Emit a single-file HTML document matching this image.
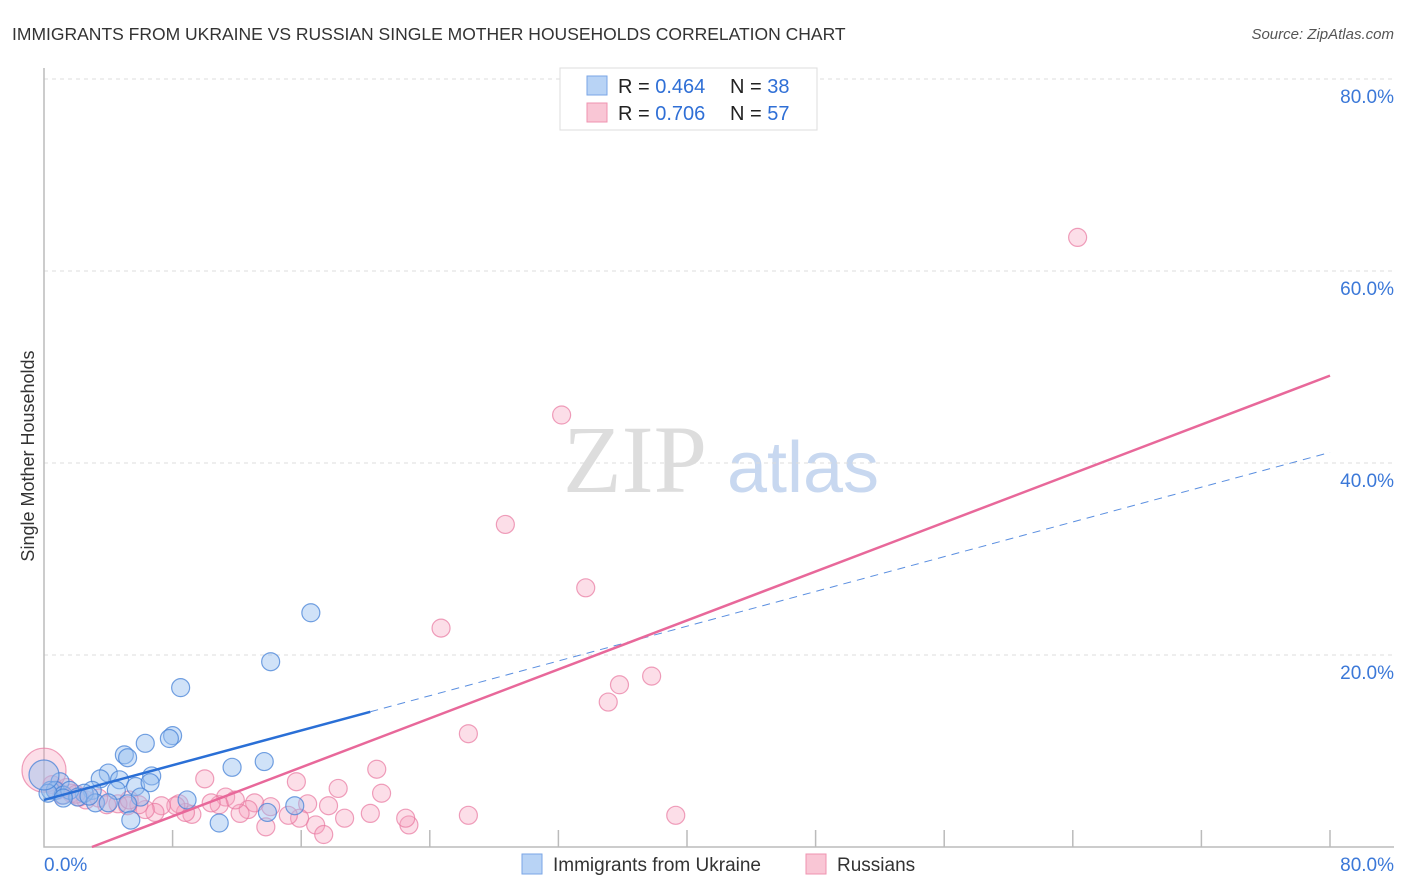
<!DOCTYPE html>
<html><head><meta charset="utf-8"><style>
body{margin:0;background:#fff;font-family:"Liberation Sans",sans-serif;}
svg{display:block}
</style></head><body>
<svg id="chart" width="1406" height="892">
<text x="12" y="40" font-size="17.5" fill="#333">IMMIGRANTS FROM UKRAINE VS RUSSIAN SINGLE MOTHER HOUSEHOLDS CORRELATION CHART</text>
<text x="1394" y="39" font-size="15" fill="#555" font-style="italic" text-anchor="end">Source: ZipAtlas.com</text>
<text transform="translate(34,456) rotate(-90)" font-size="18" fill="#333" text-anchor="middle">Single Mother Households</text>
<g>
<text x="635" y="492" font-size="96" fill="#ddd" text-anchor="middle" font-family="Liberation Serif,serif">ZIP</text>
<text x="803" y="492" font-size="72" fill="#c8d8f0" text-anchor="middle">atlas</text>
</g>
<g id="grid"></g><g id="axes"></g><g id="pts"></g><g id="lines"></g>
<g>
<rect x="560" y="68" width="257" height="62" fill="#fff" stroke="#ddd"/>
<rect x="587" y="76" width="20" height="19" fill="#b8d3f5" stroke="#7aa6e6"/>
<rect x="587" y="103" width="20" height="19" fill="#f9c6d5" stroke="#ef93b0"/>
<text x="618" y="93" font-size="20" fill="#222">R = <tspan fill="#2f6fd6">0.464</tspan></text>
<text x="730" y="93" font-size="20" fill="#222">N = <tspan fill="#2f6fd6">38</tspan></text>
<text x="618" y="120" font-size="20" fill="#222">R = <tspan fill="#2f6fd6">0.706</tspan></text>
<text x="730" y="120" font-size="20" fill="#222">N = <tspan fill="#2f6fd6">57</tspan></text>
</g>
<g>
<rect x="522" y="854" width="20" height="20" fill="#b8d3f5" stroke="#7aa6e6"/>
<text x="553" y="871" font-size="19" fill="#333">Immigrants from Ukraine</text>
<rect x="806" y="854" width="20" height="20" fill="#f9c6d5" stroke="#ef93b0"/>
<text x="837" y="871" font-size="19" fill="#333">Russians</text>
</g>
</svg>
<script>
const yTicks=[20,40,60,80];
const yTickLabels=["20.0%","40.0%","60.0%","80.0%"];
const xTickVals=[8,16,24,32,40,48,56,64,72,80];
const xEndLabels=["0.0%","80.0%"];
const ukraineX=[16.6,14.1,8.5,8.0,7.8,6.3,5.0,5.2,6.7,11.7,13.7,4.0,3.5,4.7,1.0,0.4,3.0,2.5,5.7,6.6,4.5,0.7,1.2,3.2,8.9,6.0,5.2,4.0,5.4,10.9,13.9,15.6,1.6,2.1,0.25,1.2,2.8,0.0];
const ukraineY=[24.4,19.3,16.6,11.6,11.3,10.8,9.6,9.3,7.4,8.3,8.9,7.7,7.1,7.0,6.8,5.9,5.9,5.6,6.3,6.7,5.9,5.9,5.4,4.6,4.9,5.2,4.5,4.6,2.8,2.5,3.6,4.3,5.9,5.2,5.6,5.1,5.3,7.5];
const russiaX=[64.3,32.2,28.7,33.7,24.7,37.8,35.8,35.1,26.4,20.7,15.7,10.0,18.3,21.0,11.3,39.3,26.4,22.7,22.5,20.3,18.7,17.7,16.9,17.4,16.4,15.9,15.2,14.1,13.8,13.1,12.7,12.2,11.9,10.9,10.4,9.2,8.8,8.4,8.2,7.3,6.9,6.3,5.9,5.2,4.6,3.9,2.6,1.7,1.1,0.5,0.8,2.2,3.4,5.3,1.4,2.0,0.0];
const russiaY=[63.5,45.0,33.6,27.0,22.8,17.8,16.9,15.1,11.8,8.1,6.8,7.1,6.1,5.6,5.2,3.3,3.3,2.3,3.0,3.5,3.0,4.3,2.3,1.3,4.5,3.0,3.3,4.2,2.1,4.6,3.9,3.5,4.9,4.4,4.6,3.4,3.6,4.5,4.3,4.3,3.6,3.9,4.4,4.3,4.5,4.4,4.9,5.6,5.4,6.5,5.9,5.2,5.1,4.9,6.2,5.5,8.0];
const ukraineBigIdx=37, russiaBigIdx=56;
const blueTrend=[4.9,41.1], blueSolidEnd=20.3;
const pinkSlope=0.6375, pinkIntercept=-1.9;

const X=v=>44+v*16.075, Y=v=>847-v*9.6;
const NS="http://www.w3.org/2000/svg";
function mk(tag,attrs,parent){const e=document.createElementNS(NS,tag);for(const k in attrs)e.setAttribute(k,attrs[k]);document.getElementById(parent).appendChild(e);return e;}
yTicks.forEach((t,i)=>{
 const g=mk('line',{x1:44,x2:1394,y1:Y(t),y2:Y(t),stroke:'#ddd','stroke-dasharray':'4,4'},'grid');
 
 
 const l=mk('text',{x:1394,y:Y(t)+24,'font-size':19,fill:'#3b78d8','text-anchor':'end'},'grid');
 l.textContent=yTickLabels[i];
 
 
});
const ax=mk('path',{d:'M44,68V847H1394',fill:'none',stroke:'#bbb','stroke-width':1.5},'axes');


xTickVals.forEach(t=>{
 const k=mk('line',{x1:X(t),x2:X(t),y1:830,y2:847,stroke:'#bbb','stroke-width':1.5},'axes');
 
 
});
const xl0=mk('text',{x:44,y:871,'font-size':19,fill:'#3b78d8'},'axes');xl0.textContent=xEndLabels[0];


const xl1=mk('text',{x:1394,y:871,'font-size':19,fill:'#3b78d8','text-anchor':'end'},'axes');xl1.textContent=xEndLabels[1];


russiaX.forEach((v,i)=>{
 const c=mk('circle',{cx:X(v),cy:Y(russiaY[i]),r:i===russiaBigIdx?22:9,fill:'rgba(245,160,188,0.35)',stroke:'rgba(232,120,160,0.7)','stroke-width':1.2},'pts');
 
 
});
ukraineX.forEach((v,i)=>{
 const c=mk('circle',{cx:X(v),cy:Y(ukraineY[i]),r:i===ukraineBigIdx?15:9,fill:'rgba(150,190,240,0.45)',stroke:'rgba(70,130,215,0.75)','stroke-width':1.2},'pts');
 
 
});
const bAt=x=>blueTrend[0]+(blueTrend[1]-blueTrend[0])*x/80;
const b1=mk('line',{x1:X(0),y1:Y(bAt(0)),x2:X(blueSolidEnd),y2:Y(bAt(blueSolidEnd)),stroke:'#2a6fd6','stroke-width':2.5},'lines');


const b2=mk('line',{x1:X(blueSolidEnd),y1:Y(bAt(blueSolidEnd)),x2:X(80),y2:Y(bAt(80)),stroke:'#5b8fe0','stroke-width':1,'stroke-dasharray':'8,6'},'lines');


const px0=-pinkIntercept/pinkSlope;
const p=mk('line',{x1:X(px0),y1:Y(0),x2:X(80),y2:Y(pinkIntercept+pinkSlope*80),stroke:'#e8689a','stroke-width':2.5},'lines');


</script>
</body></html>
